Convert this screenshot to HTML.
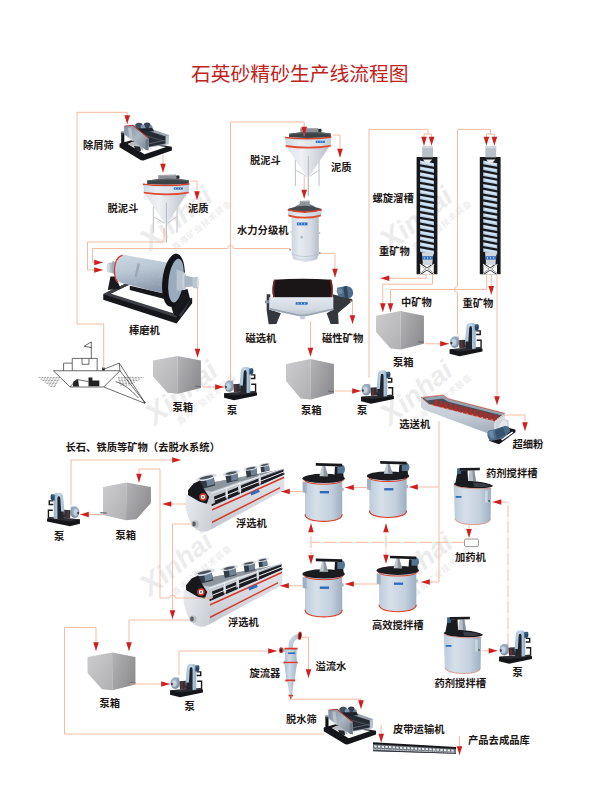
<!DOCTYPE html><html><head><meta charset="utf-8"><title>flow</title><style>html,body{margin:0;padding:0;background:#fff;font-family:"Liberation Sans",sans-serif}svg{display:block}</style></head><body><svg width="600" height="800" viewBox="0 0 600 800"><defs><linearGradient id="vsPanel" x1="0" y1="0" x2="1" y2="1"><stop offset="0" stop-color="#7f8d9b"/><stop offset=".5" stop-color="#aab6c1"/><stop offset="1" stop-color="#76838f"/></linearGradient>
<g id="vscreen" transform="scale(0.108333)">
 <!-- base -->
 <path fill="#15161a" d="M42 262L150 232L200 240L525 292L525 328L262 420L240 418L42 298z"/>
 <path fill="#fbfbfc" d="M118 268L165 248L472 296L272 362z"/>
 <path fill="#b9bcc0" d="M118 268L165 248L250 262L262 330z"/>
 <path fill="#23252a" d="M176 286L232 292L240 334L186 326z"/>
 <!-- left post -->
 <path fill="#111216" d="M57 165L86 165L86 262L57 262z"/>
 <ellipse cx="71" cy="160" rx="20" ry="9" fill="#8d949d"/>
 <ellipse cx="71" cy="172" rx="18" ry="7" fill="#3b3f47"/>
 <!-- far wall + interior -->
 <path fill="#99a4b0" d="M165 95L205 82L497 184L492 268L468 274L312 300L300 140z"/>
 <path fill="#272b33" d="M172 104L468 198L468 262L314 292L310 215z"/>
 <path fill="#4a505a" d="M230 170L468 240L468 250L240 185z"/>
 <path fill="#5d646f" d="M300 262L468 228L468 236L305 272z"/>
 <path fill="#b9c2cc" d="M468 198L497 184L492 268L468 274z"/>
 <!-- motors -->
 <ellipse cx="222" cy="102" rx="34" ry="30" fill="#3d4c5f"/>
 <ellipse cx="296" cy="98" rx="32" ry="28" fill="#334152"/>
 <ellipse cx="258" cy="112" rx="22" ry="22" fill="#8195ab"/>
 <ellipse cx="330" cy="112" rx="16" ry="18" fill="#6f8296"/>
 <path fill="#1d222b" d="M200 125L345 120L360 150L240 160z"/>
 <!-- near side panel -->
 <path fill="url(#vsPanel)" d="M84 104L166 94L312 214L308 326L282 320L84 180z"/>
 <path fill="#6e7a87" d="M282 228L312 214L308 326L282 320z"/>
 <path fill="#b5342a" d="M84 99L166 91L312 212L309 219L162 100L84 107z"/>
 <path fill="#cfd6dd" opacity=".6" d="M120 118L150 112L165 245L135 222z"/>
</g><linearGradient id="coneG" x1="0" y1="0" x2="1" y2="0"><stop offset="0" stop-color="#dfe3e8"/><stop offset=".35" stop-color="#eef0f3"/><stop offset=".75" stop-color="#d0d4da"/><stop offset="1" stop-color="#bcc1c8"/></linearGradient><linearGradient id="coneB" x1="0" y1="0" x2="1" y2="0"><stop offset="0" stop-color="#cfd8e2"/><stop offset=".3" stop-color="#e9eef4"/><stop offset=".8" stop-color="#d5dde6"/><stop offset="1" stop-color="#bcc6d1"/></linearGradient>
<g id="cone" transform="scale(0.108333)">
 <!-- legs -->
 <g stroke="#b3b8bf" stroke-width="9" fill="none" stroke-linecap="round">
  <path d="M170 380L170 620M388 390L388 620M290 350L290 712"/>
  <path stroke-width="7" d="M170 478L272 535M388 478L305 535"/>
 </g>
 <g stroke="#e9ebee" stroke-width="3" fill="none"><path d="M168 380L168 620M386 390L386 620M288 520L288 712"/></g>
 <!-- cone -->
 <path fill="url(#coneG)" d="M88 262L482 262L304 528L266 528z"/>
 <path d="M290 352L290 712" stroke="#aeb3ba" stroke-width="9" stroke-linecap="round" fill="none"/><path d="M288 356L288 708" stroke="#dfe2e6" stroke-width="3" fill="none"/>
 <!-- feed well -->
 <path fill="#8a9096" d="M215 92L380 90L380 140L215 140z"/>
 <path fill="#a7adb3" d="M215 92L380 90L370 100L225 102z"/>
 <path fill="#4c5258" d="M378 98L408 96L410 126L380 130z"/>
 <ellipse cx="398" cy="110" rx="12" ry="14" fill="#24282d"/>
 <!-- dark rim -->
 <path fill="#3c4346" d="M112 142Q290 112 497 140L497 172Q290 190 112 175z"/>
 <path fill="#596164" d="M112 142Q290 112 497 140L490 150Q290 125 120 152z"/>
 <!-- band -->
 <path fill="url(#coneB)" d="M76 180Q290 205 500 178L496 255Q290 285 82 255z"/>
 <path fill="#d8432b" d="M72 170Q290 195 503 168L503 182Q290 210 74 185z"/>
 <path fill="#e2492e" d="M78 246Q290 278 498 246L494 262Q290 296 84 264z"/>
 <path fill="#bfe3f2" opacity=".8" d="M80 188Q290 214 498 186L498 192Q290 220 80 194z"/>
 <rect x="358" y="207" width="84" height="20" fill="#2b6cbd"/>
 <rect x="372" y="211" width="6" height="12" fill="#dfe9f5"/><rect x="396" y="211" width="5" height="12" fill="#dfe9f5"/><rect x="418" y="211" width="5" height="12" fill="#dfe9f5"/>
</g><linearGradient id="clsG" x1="0" y1="0" x2="1" y2="0"><stop offset="0" stop-color="#cdd5de"/><stop offset=".3" stop-color="#e6ebf1"/><stop offset=".7" stop-color="#d5dce4"/><stop offset="1" stop-color="#b4bdc8"/></linearGradient><linearGradient id="clsB" x1="0" y1="0" x2="1" y2="0"><stop offset="0" stop-color="#cdd6e0"/><stop offset=".3" stop-color="#eaeff4"/><stop offset="1" stop-color="#c2cbd6"/></linearGradient>
<g id="classifier" transform="scale(0.108333)">
 <!-- body -->
 <path fill="url(#clsG)" d="M200 240L450 240L450 598Q450 612 440 618L436 640Q325 690 214 640L210 618Q200 612 200 598z"/>
 <path fill="none" stroke="#aab2bc" stroke-width="5" d="M203 590Q325 640 447 590"/>
 <path fill="none" stroke="#b6bdc6" stroke-width="4" d="M212 622Q325 668 438 622"/>
 <!-- nozzles -->
 <circle cx="186" cy="552" r="9" fill="#8e969f"/><circle cx="460" cy="582" r="9" fill="#8e969f"/>
 <circle cx="457" cy="397" r="8" fill="#a0a8b1"/><circle cx="194" cy="386" r="6" fill="#a0a8b1"/>
 <rect x="283" y="424" width="18" height="24" fill="#aeb6bf"/>
 <!-- feed box -->
 <path fill="#8d9399" d="M275 102L365 100L368 160L272 160z"/>
 <path fill="#a9afb5" d="M275 102L365 100L358 112L283 113z"/>
 <path fill="#6d747b" d="M365 130L410 150L410 180L365 170z"/>
 <path fill="#7c838a" d="M235 150L275 130L275 170L235 175z"/>
 <!-- head -->
 <path fill="#454c50" d="M168 172Q320 120 473 172L473 190Q320 215 168 190z"/>
 <path fill="#d4422b" d="M164 176Q320 215 477 176L477 192Q320 232 164 192z"/>
 <path fill="url(#clsB)" d="M166 192Q320 232 475 192L472 232Q320 272 168 232z"/>
 <path fill="#bfe3f2" d="M166 196Q320 236 475 196L475 204Q320 244 166 204z"/>
 <path fill="#de4a2e" d="M168 226Q320 268 472 226L468 244Q320 284 172 244z"/>
 <rect x="248" y="300" width="98" height="26" fill="#2b6cbd"/>
 <rect x="262" y="305" width="7" height="16" fill="#dfe9f5"/><rect x="290" y="305" width="6" height="16" fill="#dfe9f5"/><rect x="318" y="305" width="6" height="16" fill="#dfe9f5"/>
</g><linearGradient id="rmG" x1="0" y1="0" x2="0.25" y2="1"><stop offset="0" stop-color="#cfd9e4"/><stop offset=".45" stop-color="#b9c6d4"/><stop offset="1" stop-color="#8998aa"/></linearGradient>
<g id="rodmill" transform="scale(0.183333)">
 <!-- frame -->
 <path fill="#16171b" d="M45 268L172 208L190 216L74 272L455 384L512 292L530 288L530 318L445 428L45 298z"/>
 <path fill="#3d4047" d="M45 268L62 258L457 382L442 396z"/><path fill="#3d4047" d="M62 258L172 208L190 216L80 266z"/><path fill="#34373d" d="M455 384L512 292L530 288L470 392z"/>
 <path fill="#16171b" d="M190 222L400 270L400 300L190 245z"/>
 <!-- left support -->
 <path fill="#1a1b20" d="M84 172L112 172L140 238L70 246z"/>
 <!-- right support -->
 <path fill="#17181c" d="M392 262L505 240L520 300L452 392L430 380z"/>
 <!-- left trunnion -->
 <path fill="#b3c0cd" d="M70 100L120 88L120 158L70 148z"/>
 <ellipse cx="72" cy="124" rx="9" ry="25" fill="#d2dae3"/>
 <ellipse cx="100" cy="122" rx="10" ry="36" fill="#9fadbc"/>
 <!-- drum -->
 <path fill="url(#rmG)" d="M135 56Q160 50 190 60L410 98Q440 190 402 272L150 208Q100 200 108 130Q112 70 135 56z"/>
 <path d="M150 55Q108 70 106 135Q106 190 126 206" fill="none" stroke="#d63a2a" stroke-width="7"/>
 <path fill="#8f9dad" opacity=".7" d="M232 100L246 102L228 175L216 172z"/>
 <g fill="#eef2f6" opacity=".55">
  <circle cx="175" cy="90" r="2"/><circle cx="205" cy="96" r="2"/><circle cx="265" cy="106" r="2"/><circle cx="295" cy="112" r="2"/><circle cx="325" cy="118" r="2"/><circle cx="355" cy="124" r="2"/>
  <circle cx="170" cy="130" r="2"/><circle cx="200" cy="137" r="2"/><circle cx="260" cy="150" r="2"/><circle cx="290" cy="157" r="2"/><circle cx="320" cy="164" r="2"/><circle cx="350" cy="171" r="2"/>
  <circle cx="168" cy="170" r="2"/><circle cx="198" cy="178" r="2"/><circle cx="258" cy="193" r="2"/><circle cx="288" cy="201" r="2"/><circle cx="318" cy="209" r="2"/><circle cx="348" cy="217" r="2"/>
 </g>
 <!-- gear ring + end cap + trunnion -->
 <ellipse cx="428" cy="192" rx="60" ry="146" fill="#121316" transform="rotate(7 428 192)"/>
 <ellipse cx="442" cy="194" rx="41" ry="120" fill="#9aabbd" transform="rotate(7 442 194)"/>
 <path fill="#b9c4d0" d="M445 132L488 150L488 246L445 250z"/>
 <ellipse cx="488" cy="198" rx="12" ry="48" fill="#c9d2dc"/>
 <path fill="#a9b5c2" d="M488 166L535 176L535 226L488 230z"/>
 <path fill="#bcc6d1" d="M530 178L560 172L562 240L532 232z"/>
 <ellipse cx="561" cy="206" rx="6" ry="34" fill="#d5dce4"/>
</g>
<g id="boat" transform="scale(0.216667)" fill="none" stroke="#2b2b2b" stroke-width="3.2" stroke-linejoin="round">
 <path stroke="#555" stroke-width="2.4" stroke-dasharray="9 4" d="M40 196L140 196M49 203L136 203M58 210L132 210M67 217L128 217M76 224L124 224M85 231L120 231M94 238L116 238M405 196L525 196M407 203L513 203M409 210L501 210M411 217L489 217M413 224L477 224M415 231L465 231"/>
 <path fill="#fff" d="M108 165L415 165L340 240L185 240z"/>
 <path d="M155 165L155 130L195 130M195 165L195 108L310 108L310 165M240 108L240 135L272 135L272 108"/>
 <path d="M283 108L283 32L250 52L283 58"/>
 <path d="M335 160L412 130L415 165M412 130L530 312M415 165L530 312M340 240L522 312M185 240L215 205L270 215M395 215Q440 225 500 290"/>
 <path fill="#222" stroke="none" d="M200 215L222 204L226 238L198 238zM270 196L288 196L288 210L320 210L320 236L270 236z"/>
 <circle cx="528" cy="312" r="5" fill="#333" stroke="none"/>
 <path fill="#222" stroke="none" d="M333 150L345 150L345 164L333 164z"/>
</g><linearGradient id="pbL" x1="0" y1="0" x2="1" y2="1"><stop offset="0" stop-color="#cdcdcf"/><stop offset="1" stop-color="#b0b0b3"/></linearGradient><linearGradient id="pbR" x1="0" y1="0" x2="1" y2="0.6"><stop offset="0" stop-color="#b4b4b7"/><stop offset="1" stop-color="#8e8e92"/></linearGradient>
<g id="pbox" transform="scale(0.191667) translate(-42 -58)">
 <path fill="url(#pbL)" d="M42 82L170 58L172 255L118 250L42 165z"/>
 <path fill="url(#pbR)" d="M170 58L292 82L292 225L172 255z"/>
 <path fill="#6c6e72" d="M262 212L292 214L292 221L262 219z"/>
</g>
<g id="pboxm" transform="scale(0.191667) translate(-42 -58)">
 <path fill="url(#pbL)" d="M42 82L164 58L162 255L42 228z"/>
 <path fill="url(#pbR)" d="M164 58L292 82L292 165L216 250L162 255z"/>
 <path fill="#6c6e72" d="M28 212L62 214L62 221L28 219z"/>
</g><radialGradient id="pmV" cx=".4" cy=".4" r=".7"><stop offset="0" stop-color="#bccad8"/><stop offset="1" stop-color="#70849a"/></radialGradient><linearGradient id="pmB" x1="0" y1="0" x2="1" y2="0"><stop offset="0" stop-color="#9fbbd4"/><stop offset=".5" stop-color="#c6d9ea"/><stop offset="1" stop-color="#8fadc8"/></linearGradient>
<g id="pump" transform="scale(0.070000)">
 <!-- base -->
 <path fill="#141518" d="M58 448L490 418L528 438L528 478L200 545L58 512z"/>
 <path fill="#2b2d32" d="M58 448L490 418L528 438L200 478z"/>
 <!-- frame right -->
 <path fill="none" stroke="#18191d" stroke-width="20" d="M438 184L496 184L496 236L438 236M446 318L508 318L508 430"/>
 <!-- bearing housing -->
 <path fill="#2f3238" d="M188 318L330 308L340 420L200 432z"/>
 <path fill="#7a2d2a" d="M215 318L235 316L242 428L222 430z"/>
 <path fill="#8f9aa6" d="M280 330L335 326L338 380L285 386z"/>
 <!-- volute -->
 <path fill="#aebdcb" d="M100 268L190 262L190 300L100 305z"/>
 <ellipse cx="132" cy="345" rx="66" ry="82" fill="url(#pmV)"/>
 <ellipse cx="118" cy="350" rx="34" ry="48" fill="#d0dae4" opacity=".7"/>
 <ellipse cx="84" cy="356" rx="14" ry="18" fill="#3a4048"/>
 <!-- belt guard -->
 <path fill="#20242a" d="M322 110L388 110L388 340L310 340z"/><path fill="#23262c" d="M290 330L385 330L385 440L290 440z"/>
 <path fill="url(#pmB)" d="M280 336L298 130Q304 68 365 68Q432 68 432 130L432 440L380 444L380 150Q378 114 360 114Q342 114 338 150L326 336z"/>
 <!-- motor -->
 <path fill="#264868" d="M420 92L462 88Q478 90 478 130Q478 172 462 176L420 178z"/>
 <path fill="#3b668f" d="M430 100L462 97L462 120L430 122z"/>
</g><linearGradient id="msT" x1="0" y1="0" x2="0" y2="1"><stop offset="0" stop-color="#e3e8ef"/><stop offset=".6" stop-color="#d3dae3"/><stop offset="1" stop-color="#b4bdc8"/></linearGradient>
<g id="magsep" transform="scale(0.166667)">
 <!-- frame / legs -->
 <path fill="#34373c" d="M40 158L62 158L62 250L125 272L98 336L52 338L40 255z"/>
 <path fill="#34373c" d="M436 158L552 186L556 196L468 270L472 336L424 336L400 272L436 250z"/>
 <path fill="#fff" d="M66 262L108 278L92 318L70 318z" opacity=".0"/>
 <!-- motor -->
 <path fill="#4d6c89" d="M462 118L520 108Q556 112 560 150Q556 178 530 182L470 170z"/>
 <path fill="#2f455b" d="M500 112L520 108L530 182L508 178z"/>
 <circle cx="478" cy="140" r="18" fill="#6d88a2"/>
 <!-- drum -->
 <path fill="#1a1516" d="M84 70Q255 58 428 70Q442 120 432 178L80 178Q68 120 84 70z"/>
 <path fill="#7b2320" d="M84 70Q68 120 80 178L90 178Q78 120 94 70z"/>
 <path fill="#7b2320" d="M428 70Q442 120 432 178L422 178Q432 120 418 70z"/>
 <!-- tank -->
 <path fill="url(#msT)" d="M55 176L440 176L440 252L272 290L238 290L55 250z"/>
 <path fill="#9aa4b0" d="M55 238L240 280L272 280L440 242L440 252L272 290L238 290L55 250z"/>
 <path fill="#c5ccd5" d="M240 288L270 288L268 308L243 308z"/>
 <rect x="214" y="205" width="72" height="15" fill="#2b6cbd"/>
 <rect x="226" y="208" width="5" height="9" fill="#dfe9f5"/><rect x="246" y="208" width="5" height="9" fill="#dfe9f5"/><rect x="266" y="208" width="5" height="9" fill="#dfe9f5"/>
 <path fill="#8c96a2" d="M30 196L55 192L55 212L30 212z"/>
</g>
<g id="chute" transform="scale(0.2)">
 <path fill="#17181b" d="M108 160L212 160L212 746L108 746z"/>
 <path fill="#fff" d="M124 694L160 716L196 694L196 700L165 720L196 742L196 746L160 724L124 746L124 742L155 720L124 700z" transform="translate(0 0)"/>
 <path fill="#fff" d="M126 700L152 720L126 740zM194 700L168 720L194 740zM132 746L160 728L188 746zM134 694L160 712L186 694z"/>
 <path fill="#b4cde3" d="M125 178.0L195 191.0L195 209.0L125 196.0zM125 207.2L195 220.2L195 238.2L125 225.2zM125 236.4L195 249.4L195 267.4L125 254.4zM125 265.6L195 278.6L195 296.6L125 283.6zM125 294.8L195 307.8L195 325.8L125 312.8zM125 324.0L195 337.0L195 355.0L125 342.0zM125 353.2L195 366.2L195 384.2L125 371.2zM125 382.4L195 395.4L195 413.4L125 400.4zM125 411.6L195 424.6L195 442.6L125 429.6zM125 440.8L195 453.8L195 471.8L125 458.8zM125 470.0L195 483.0L195 501.0L125 488.0zM125 499.2L195 512.2L195 530.2L125 517.2zM125 528.4L195 541.4L195 559.4L125 546.4zM125 557.6L195 570.6L195 588.6L125 575.6zM125 586.8L195 599.8L195 617.8L125 604.8zM125 616.0L195 629.0L195 647.0L125 634.0z"/>
 <path fill="#dcebf7" d="M132 183.0L190 194.0L190 201.0L132 190.0zM132 212.2L190 223.2L190 230.2L132 219.2zM132 241.4L190 252.4L190 259.4L132 248.4zM132 270.6L190 281.6L190 288.6L132 277.6zM132 299.8L190 310.8L190 317.8L132 306.8zM132 329.0L190 340.0L190 347.0L132 336.0zM132 358.2L190 369.2L190 376.2L132 365.2zM132 387.4L190 398.4L190 405.4L132 394.4zM132 416.6L190 427.6L190 434.6L132 423.6zM132 445.8L190 456.8L190 463.8L132 452.8zM132 475.0L190 486.0L190 493.0L132 482.0zM132 504.2L190 515.2L190 522.2L132 511.2zM132 533.4L190 544.4L190 551.4L132 540.4zM132 562.6L190 573.6L190 580.6L132 569.6zM132 591.8L190 602.8L190 609.8L132 598.8zM132 621.0L190 632.0L190 639.0L132 628.0z"/>
 <path fill="#b9bfc6" d="M136 106L190 106L190 162L136 162z"/>
 <path fill="#d3d8dd" d="M136 106L190 106L190 116L136 116z"/>
 <path fill="#e8edf2" d="M140 172L186 172L170 190L150 186z"/>
 <path fill="#cfd6de" d="M134 636L192 636L186 700L140 700z"/>
 <rect x="136" y="656" width="54" height="17" fill="#2b6cbd"/>
 <rect x="144" y="660" width="4" height="9" fill="#dfe9f5"/><rect x="160" y="660" width="4" height="9" fill="#dfe9f5"/><rect x="176" y="660" width="4" height="9" fill="#dfe9f5"/>
</g><linearGradient id="scF" x1="0" y1="0" x2="0.2" y2="1"><stop offset="0" stop-color="#d5dbe3"/><stop offset=".6" stop-color="#c3cbd5"/><stop offset="1" stop-color="#a9b3bf"/></linearGradient>
<g id="screw" transform="scale(0.2)">
 <!-- base frame of drive -->
 <path fill="#15161a" d="M372 262L470 215L502 222L502 236L420 296L372 280z"/>
 <path fill="#fff" d="M430 270L486 232L492 238L436 278z"/>
 <!-- interior -->
 <path fill="#474c55" d="M36 64L140 52L165 70L448 142L400 176L68 94z"/>
 <path fill="#98a2ae" d="M44 64L140 52L166 70L448 142L436 152L166 84L138 68L60 78z"/>
 <g fill="#ad2c27"><ellipse cx="104.0" cy="94.0" rx="10" ry="21" transform="rotate(14 104.0 94.0)"/><ellipse cx="128.7" cy="100.2" rx="10" ry="21" transform="rotate(14 128.7 100.2)"/><ellipse cx="153.3" cy="106.3" rx="10" ry="21" transform="rotate(14 153.3 106.3)"/><ellipse cx="178.0" cy="112.5" rx="10" ry="21" transform="rotate(14 178.0 112.5)"/><ellipse cx="202.7" cy="118.7" rx="10" ry="21" transform="rotate(14 202.7 118.7)"/><ellipse cx="227.3" cy="124.8" rx="10" ry="21" transform="rotate(14 227.3 124.8)"/><ellipse cx="252.0" cy="131.0" rx="10" ry="21" transform="rotate(14 252.0 131.0)"/><ellipse cx="276.7" cy="137.2" rx="10" ry="21" transform="rotate(14 276.7 137.2)"/><ellipse cx="301.3" cy="143.3" rx="10" ry="21" transform="rotate(14 301.3 143.3)"/><ellipse cx="326.0" cy="149.5" rx="10" ry="21" transform="rotate(14 326.0 149.5)"/><ellipse cx="350.7" cy="155.7" rx="10" ry="21" transform="rotate(14 350.7 155.7)"/><ellipse cx="375.3" cy="161.8" rx="10" ry="21" transform="rotate(14 375.3 161.8)"/><ellipse cx="400.0" cy="168.0" rx="10" ry="21" transform="rotate(14 400.0 168.0)"/></g>
 <!-- front face -->
 <path fill="url(#scF)" d="M30 62L68 95L398 180L398 246L360 240L42 122L30 110z"/>
 <path fill="none" stroke="#c23a2e" stroke-width="3" d="M30 62L68 95L398 180L450 150M30 62L140 50L166 68L450 142"/>
 <!-- end plate -->
 <path fill="#d9dee4" d="M398 180L450 150L452 200L398 246z"/>
 <!-- drive drum -->
 <path fill="#cdd3da" d="M405 185Q440 160 468 178L470 232Q440 262 408 246z"/>
 <ellipse cx="438" cy="212" rx="20" ry="40" fill="#e3e7eb" transform="rotate(20 438 212)"/>
 <!-- motor -->
 <path fill="#4b6b88" d="M362 238Q368 222 392 224L452 204Q476 208 476 232L440 268L380 280Q360 270 362 238z"/>
 <path fill="#37526b" d="M400 226L440 210L452 250L410 270z"/>
 <path fill="#6c8aa5" d="M366 238Q372 226 390 228L396 268Q374 270 366 238z"/>
</g><linearGradient id="flS" x1="0" y1="0" x2="0" y2="1"><stop offset="0" stop-color="#e1e4e9"/><stop offset=".6" stop-color="#d3d7dd"/><stop offset="1" stop-color="#bfc4cc"/></linearGradient><linearGradient id="flE" x1="0" y1="0" x2="1" y2="0.5"><stop offset="0" stop-color="#e9ebef"/><stop offset="1" stop-color="#cfd3d9"/></linearGradient>
<g id="flot" transform="scale(0.2)">
 <!-- side face -->
 <path fill="url(#flS)" d="M155 248L522 92L522 172L500 186L155 372z"/>
 <!-- end face -->
 <path fill="url(#flE)" d="M28 198L155 248L155 372Q120 395 80 372Q42 340 28 260z"/>
 <path fill="#b9bfc7" d="M58 332Q75 322 92 334L92 360Q75 368 58 356z"/>
 <ellipse cx="70" cy="345" rx="9" ry="12" fill="#5a6068"/>
 <!-- red stripes -->
 <path fill="#d8362a" d="M160 270L520 108L520 116L160 279zM160 332L500 160L500 168L160 341z"/>
 <rect x="352" y="180" width="46" height="14" fill="#2b6cbd" transform="rotate(-22 375 187)"/>
 <!-- deck (light) -->
 <path fill="#c5cad1" d="M40 176L92 150L520 70L522 96L160 252L40 200z"/>
 <path fill="#8d959f" d="M92 150L520 70L520 78L300 132L160 182L110 176z"/>
 <!-- black windows -->
 <g fill="#1b1d22">
  <path d="M170 208L226 186L229 222L176 246z"/><path d="M238 181L290 160L292 196L242 218z"/>
  <path d="M304 152L392 118L394 150L308 186z"/><path d="M404 113L516 74L516 98L406 146z"/>
 </g>
 <path fill="#1b1d22" d="M158 246L522 90L522 98L158 256z"/>
 <g stroke="#eef0f3" stroke-width="5" fill="none"><path d="M156 192L520 64M172 226L292 178M232 162L236 226M298 136L302 196M398 98L400 150M306 168L394 134M404 130L516 86"/></g>
 <!-- motors -->
 <g fill="#323c47">
  <path d="M98 122L168 106L176 152L108 170z"/><path d="M226 98L286 84L292 126L234 140z"/>
  <path d="M328 74L382 62L386 100L334 112z"/><path d="M402 56L444 46L448 78L406 88z"/>
 </g>
 <g fill="#6f8296">
  <path d="M130 116L168 106L174 146L136 156z"/><path d="M254 92L286 84L291 122L258 130z"/>
  <path d="M352 70L382 62L386 96L356 104z"/><path d="M420 52L444 46L448 74L424 82z"/>
 </g>
 <g fill="#dde1e6">
  <ellipse cx="132" cy="112" rx="54" ry="14" transform="rotate(-13 132 112)"/><ellipse cx="256" cy="90" rx="45" ry="12" transform="rotate(-12 256 90)"/>
  <ellipse cx="354" cy="66" rx="38" ry="10" transform="rotate(-11 354 66)"/><ellipse cx="423" cy="49" rx="31" ry="9" transform="rotate(-11 423 49)"/>
 </g>
 <g fill="#4a525c">
  <ellipse cx="132" cy="112" rx="36" ry="7" transform="rotate(-13 132 112)"/><ellipse cx="256" cy="90" rx="30" ry="6" transform="rotate(-12 256 90)"/>
  <ellipse cx="354" cy="66" rx="25" ry="5" transform="rotate(-11 354 66)"/><ellipse cx="423" cy="49" rx="20" ry="4.5" transform="rotate(-11 423 49)"/>
 </g>
 <!-- belt guard front-left -->
 <path fill="#17181c" d="M40 176L68 142L100 128L120 170L146 210L134 244L96 232L40 200z"/>
 <circle cx="115" cy="210" r="19" fill="#d8362a"/><circle cx="115" cy="210" r="11" fill="#f0f0f0"/><circle cx="115" cy="210" r="5" fill="#5b7a99"/>
</g><linearGradient id="atG" x1="0" y1="0" x2="1" y2="0"><stop offset="0" stop-color="#bccbdb"/><stop offset=".3" stop-color="#d6e0ea"/><stop offset=".7" stop-color="#c3d0dd"/><stop offset="1" stop-color="#9dafc2"/></linearGradient>
<g id="atank" transform="scale(0.2)">
 <!-- body -->
 <path fill="url(#atG)" d="M50 120L236 120L236 300Q236 330 143 332Q50 330 50 300z"/>
 <path fill="none" stroke="#de3f2a" stroke-width="6" d="M50 296Q52 330 143 332Q234 330 236 296"/>
 <!-- side box / nozzle -->
 <path fill="#9fb0c2" d="M38 132L58 136L58 192L38 186z"/>
 <path fill="#aab6c3" d="M230 164L243 164L243 180L230 180z"/>
 <!-- lid -->
 <ellipse cx="143" cy="117" rx="106" ry="23" fill="#1b1c20"/>
 <path fill="none" stroke="#de3f2a" stroke-width="5" d="M42 124Q60 146 143 146Q226 146 244 124"/>
 <!-- bridge support -->
 <path fill="#c3c9d0" d="M136 52L150 52L166 106L122 106z"/>
 <path fill="#8e969f" d="M143 52L150 52L166 106L143 106z"/>
 <!-- bracket & motor -->
 <path fill="#1b1c20" d="M200 58L238 58L244 116L196 116z"/>
 <path fill="#55748f" d="M212 50L240 50Q250 56 250 72Q250 88 240 92L212 92z"/>
 <!-- beam -->
 <path fill="#17181b" d="M104 40L236 44L236 58L104 54z"/>
 <rect x="124" y="180" width="46" height="12" fill="#2b6cbd"/>
</g>
<g id="rtank" transform="scale(0.137457)">
 <path fill="url(#atG)" d="M100 185L372 205L368 430Q360 470 235 470Q115 465 108 425z"/>
 <path fill="none" stroke="#dc8068" stroke-width="5" d="M108 425Q115 465 235 470Q360 470 368 430"/>
 <!-- side box -->
 <path fill="#a3b4c6" d="M320 215L366 222L362 322L322 312z"/><path fill="#c9d5e0" d="M324 220L348 224L346 314L325 309z"/>
 <path fill="#3d5a4a" d="M352 290L362 292L362 306L352 304z"/>
 <!-- lid -->
 <path fill="#1a1b1f" d="M98 172Q160 142 250 154Q350 162 386 188Q380 208 240 204Q110 198 98 172z"/>
 <path fill="none" stroke="#dc8068" stroke-width="5" d="M100 184Q130 202 240 208Q350 212 376 204"/>
 <path fill="#3a3d43" d="M240 165Q320 165 360 185Q330 200 250 196z"/>
 <!-- bracket/motor -->
 <path fill="#1a1b1f" d="M128 80L200 72L205 165L112 168z"/>
 <path fill="#3e6285" d="M124 62L152 58L154 100L126 104z"/>
 <!-- support -->
 <path fill="#b9c0c8" d="M215 76L250 76L262 152L205 152z"/>
 <path fill="#8a929b" d="M236 76L250 76L262 152L240 152z"/>
 <!-- beam -->
 <path fill="#1a1b1f" d="M145 58L290 56L290 74L145 78z"/>
 <rect x="114" y="262" width="42" height="13" fill="#2b6cbd"/>
</g><linearGradient id="cyB" x1="0" y1="0" x2="1" y2="0"><stop offset="0" stop-color="#a9bccd"/><stop offset=".4" stop-color="#cfdce8"/><stop offset="1" stop-color="#a0b3c5"/></linearGradient><linearGradient id="cyP" x1="0" y1="0" x2="1" y2="1"><stop offset="0" stop-color="#cfdce8"/><stop offset="1" stop-color="#a0b3c5"/></linearGradient>
<g id="cyclone" transform="scale(0.1)">
 <!-- overflow elbow -->
 <path fill="none" stroke="url(#cyP)" stroke-width="46" d="M258 262L258 225Q262 160 345 135"/>
 <ellipse cx="348" cy="138" rx="20" ry="42" fill="#c8382b" transform="rotate(8 348 138)"/>
 <ellipse cx="350" cy="138" rx="11" ry="30" fill="#5e1512" transform="rotate(8 350 138)"/>
 <!-- inlet -->
 <path fill="#b3c4d4" d="M165 262L200 268L200 300L165 305z"/>
 <ellipse cx="162" cy="283" rx="21" ry="30" fill="#c8382b"/>
 <ellipse cx="160" cy="284" rx="11" ry="18" fill="#5e1512"/>
 <!-- head -->
 <path fill="url(#cyB)" d="M200 268L316 268L316 360L322 404L190 404L200 360z"/>
 <path fill="#d63a2a" d="M196 258L326 258L326 274L196 274zM184 398L326 398L326 416L184 416z"/>
 <rect x="230" y="304" width="72" height="16" fill="#2b6cbd"/>
 <!-- cone 1 -->
 <path fill="url(#cyB)" d="M194 416L320 416L296 580L214 580z"/>
 <path fill="#d63a2a" d="M204 576L302 576Q304 586 300 596L206 596Q200 586 204 576z"/>
 <!-- cone 2 -->
 <path fill="url(#cyB)" d="M224 596L286 596L270 730L246 730z"/>
 <path fill="#d63a2a" d="M234 728L282 728L278 744L238 744z"/>
 <path fill="#c4382c" d="M246 744L270 744L258 778z"/>
</g>
<g id="belt" transform="scale(0.166667)">
 <path fill="#6d737b" d="M48 52L546 78L546 112L48 96z"/>
 <path fill="#e9ecef" d="M56.0 62.0l14 1l0 12l-14 -1zM78.0 63.2l14 1l0 12l-14 -1zM100.0 64.4l14 1l0 12l-14 -1zM122.0 65.5l14 1l0 12l-14 -1zM144.0 66.7l14 1l0 12l-14 -1zM166.0 67.9l14 1l0 12l-14 -1zM188.0 69.1l14 1l0 12l-14 -1zM210.0 70.3l14 1l0 12l-14 -1zM232.0 71.5l14 1l0 12l-14 -1zM254.0 72.6l14 1l0 12l-14 -1zM276.0 73.8l14 1l0 12l-14 -1zM298.0 75.0l14 1l0 12l-14 -1zM320.0 76.2l14 1l0 12l-14 -1zM342.0 77.4l14 1l0 12l-14 -1zM364.0 78.5l14 1l0 12l-14 -1zM386.0 79.7l14 1l0 12l-14 -1zM408.0 80.9l14 1l0 12l-14 -1zM430.0 82.1l14 1l0 12l-14 -1zM452.0 83.3l14 1l0 12l-14 -1zM474.0 84.5l14 1l0 12l-14 -1zM496.0 85.6l14 1l0 12l-14 -1zM518.0 86.8l14 1l0 12l-14 -1z"/>
 <path fill="#c9ced4" d="M52.0 78.0l10 8l8 -7l0 10l-18 -1zM74.2 79.0l10 8l8 -7l0 10l-18 -1zM96.4 80.0l10 8l8 -7l0 10l-18 -1zM118.5 81.0l10 8l8 -7l0 10l-18 -1zM140.7 82.0l10 8l8 -7l0 10l-18 -1zM162.9 83.0l10 8l8 -7l0 10l-18 -1zM185.1 84.0l10 8l8 -7l0 10l-18 -1zM207.3 85.0l10 8l8 -7l0 10l-18 -1zM229.5 86.0l10 8l8 -7l0 10l-18 -1zM251.6 87.0l10 8l8 -7l0 10l-18 -1zM273.8 88.0l10 8l8 -7l0 10l-18 -1zM296.0 89.0l10 8l8 -7l0 10l-18 -1zM318.2 90.0l10 8l8 -7l0 10l-18 -1zM340.4 91.0l10 8l8 -7l0 10l-18 -1zM362.5 92.0l10 8l8 -7l0 10l-18 -1zM384.7 93.0l10 8l8 -7l0 10l-18 -1zM406.9 94.0l10 8l8 -7l0 10l-18 -1zM429.1 95.0l10 8l8 -7l0 10l-18 -1zM451.3 96.0l10 8l8 -7l0 10l-18 -1zM473.5 97.0l10 8l8 -7l0 10l-18 -1zM495.6 98.0l10 8l8 -7l0 10l-18 -1zM517.8 99.0l10 8l8 -7l0 10l-18 -1z"/>
 <path fill="#15161a" d="M48 44L546 72L546 84L48 56z"/>
 <path fill="#2b2d33" d="M48 92L546 108L546 113L48 97z"/>
</g></defs><rect width="600" height="800" fill="#fff"/><g fill="#ececec" font-family="Liberation Sans, sans-serif" font-weight="bold" font-style="italic" font-size="27"><g transform="translate(150 252) rotate(-39)"><text x="0" y="0"><tspan font-size="30">X</tspan>inhai</text><text x="20" y="15" fill="#efefef" font-family="'Liberation Sans','Noto Sans CJK SC',sans-serif" font-size="8.5" font-style="normal" font-weight="bold" letter-spacing="0.8">鑫海矿业技术装备</text></g><g transform="translate(390 252) rotate(-39)"><text x="0" y="0"><tspan font-size="30">X</tspan>inhai</text><text x="20" y="15" fill="#efefef" font-family="'Liberation Sans','Noto Sans CJK SC',sans-serif" font-size="8.5" font-style="normal" font-weight="bold" letter-spacing="0.8">鑫海矿业技术装备</text></g><g transform="translate(155 426) rotate(-39)"><text x="0" y="0"><tspan font-size="30">X</tspan>inhai</text><text x="20" y="15" fill="#efefef" font-family="'Liberation Sans','Noto Sans CJK SC',sans-serif" font-size="8.5" font-style="normal" font-weight="bold" letter-spacing="0.8">鑫海矿业技术装备</text></g><g transform="translate(390 426) rotate(-39)"><text x="0" y="0"><tspan font-size="30">X</tspan>inhai</text><text x="20" y="15" fill="#efefef" font-family="'Liberation Sans','Noto Sans CJK SC',sans-serif" font-size="8.5" font-style="normal" font-weight="bold" letter-spacing="0.8">鑫海矿业技术装备</text></g><g transform="translate(150 597) rotate(-39)"><text x="0" y="0"><tspan font-size="30">X</tspan>inhai</text><text x="20" y="15" fill="#efefef" font-family="'Liberation Sans','Noto Sans CJK SC',sans-serif" font-size="8.5" font-style="normal" font-weight="bold" letter-spacing="0.8">鑫海矿业技术装备</text></g><g transform="translate(390 598) rotate(-39)"><text x="0" y="0"><tspan font-size="30">X</tspan>inhai</text><text x="20" y="15" fill="#efefef" font-family="'Liberation Sans','Noto Sans CJK SC',sans-serif" font-size="8.5" font-style="normal" font-weight="bold" letter-spacing="0.8">鑫海矿业技术装备</text></g></g><use href="#vscreen" x="0" y="0" transform="translate(115 115)"/><use href="#vscreen" transform="translate(319.2 699)"/><use href="#cone" transform="translate(135 165)"/><use href="#cone" transform="translate(277 118.3)"/><use href="#classifier" transform="translate(270 190)"/><use href="#rodmill" transform="translate(95 245)"/><use href="#boat" transform="translate(30 335)"/><use href="#pbox" transform="translate(153 356) scale(1 1)"/><use href="#pbox" transform="translate(286 359) scale(1 1.07)"/><use href="#pbox" transform="translate(376 311) scale(1 1.02)"/><use href="#pboxm" transform="translate(103 482.5)"/><use href="#pbox" transform="translate(87.5 652.5) scale(1 1)"/><use href="#pump" transform="translate(220 362) scale(1 1)"/><use href="#pump" transform="translate(357 365.5) scale(1 1)"/><use href="#pump" transform="translate(445.5 318) scale(1 1)"/><use href="#pump" transform="translate(84 488) scale(-1 1)"/><use href="#pump" transform="translate(166 659) scale(1 1)"/><use href="#pump" transform="translate(495 625.5) scale(1 1)"/><use href="#magsep" transform="translate(260 268)"/><use href="#chute" transform="translate(395 125)"/><use href="#chute" transform="translate(458.2 125)"/><use href="#screw" transform="translate(415 385)"/><use href="#flot" transform="translate(180 455)"/><use href="#flot" transform="translate(178 550)"/><use href="#atank" transform="translate(295 455)"/><use href="#atank" transform="translate(359.4 453.3) scale(1 0.967)"/><use href="#atank" transform="translate(295 550.5)"/><use href="#atank" transform="translate(369.1 548) scale(1 0.96)"/><use href="#rtank" transform="translate(440 460)"/><use href="#rtank" transform="translate(430 609)"/><use href="#cyclone" transform="translate(265 622)"/><use href="#belt" transform="translate(365 735)"/><g fill="none" stroke="#f5b399" stroke-width="0.9"><path d="M103.7 368.6L103.7 324L77 324L77 112.3L127.2 112.3L127.2 124M163 155L163 172.6M190 181L197 181L197 200M164 228L164 242L87.5 242L87.5 270L103 270M290 248.5L233.5 248.5M227.5 248.5L92.5 248.5L92.5 262.5L103 262.5M230.5 380L230.5 122L304.2 122L304.2 135.6M332.5 135L340 135L340 157.5M304.2 176L304.2 198.5M321 253.4L335 253.4L335 277.5M350 301.3L352.5 301.3L352.5 324M310.5 321L310.5 356.5M335 391L361 391M197.5 287L197.5 357.5M202.5 387L224 387M369 378L369 129.4L428 129.4L428 134M424 145.6L424 134L431.6 134L431.6 145.6M457.5 335L457.5 292.5M457.5 286.5L457.5 129.4L490.5 129.4L490.5 134M486.4 145.6L486.4 134L494.4 134L494.4 145.6M426 274L426 278.3L380.5 278.3M432.5 274L432.5 284.2L382.8 284.2L382.8 312M486.7 274L486.7 289.5L390.5 289.5L390.5 312M491.3 274L491.3 294.7M497 274L497 405M425 343.75L449 343.75M504 415L525 415L525 431M439 421L439 582L421 582M439 487L409 487M367.5 487.5L345 487.5M302.5 491.5L281 491.5M377.5 584L345 584M302.5 585.8L280 585.8M469 525L469 537.7M481.8 650.8L497.5 650.8M186 504L162.5 504M212 598L175.5 598M169.5 598L160 598L160 469L139 469L139 482.5M104 514.5L80 514.5M71 505L71 460L181 460M192.5 524L172.5 524L172.5 619M190 620L129 620L129 651M324 734L64.5 734L64.5 627.5L96 627.5L96 651M130 684L170 684M179 675L179 651L277 651M302 637.2L308.5 637.2L308.5 678M290.8 699.2L361 699.2L361 709M381.2 725L381.2 742.5M459.5 736L459.5 755M233.5 248.5A3 3 0 0 0 227.5 248.5M457.5 292.5A3 3 0 0 1 457.5 286.5M175.5 598A3 3 0 0 0 169.5 598"/><path stroke-dasharray="12 1.5 1 1.5" d="M464 542.3L311 542.3M311 564L311 523.5M386 563.5L386 523.5M508 645L508 502L492.5 502"/></g><g fill="#cf1f1f"><path d="M127.2 124.0L124.4 115.2L130.0 115.2z"/><path d="M163.0 172.6L160.2 163.8L165.8 163.8z"/><path d="M197.0 200.0L194.2 191.2L199.8 191.2z"/><path d="M103.0 270.0L94.2 272.8L94.2 267.2z"/><path d="M103.0 262.5L94.2 265.3L94.2 259.7z"/><path d="M304.2 135.6L301.4 126.8L307.0 126.8z"/><path d="M340.0 157.5L337.2 148.7L342.8 148.7z"/><path d="M304.2 198.5L301.4 189.7L307.0 189.7z"/><path d="M335.0 277.5L332.2 268.7L337.8 268.7z"/><path d="M352.5 324.0L349.7 315.2L355.3 315.2z"/><path d="M310.5 356.5L307.7 347.7L313.3 347.7z"/><path d="M361.0 391.0L352.2 393.8L352.2 388.2z"/><path d="M197.5 357.5L194.7 348.7L200.3 348.7z"/><path d="M224.0 387.0L215.2 389.8L215.2 384.2z"/><path d="M431.6 145.6L428.8 136.8L434.4 136.8z"/><path d="M424.0 145.6L421.2 136.8L426.8 136.8z"/><path d="M494.4 145.6L491.6 136.8L497.2 136.8z"/><path d="M486.4 145.6L483.6 136.8L489.2 136.8z"/><path d="M380.5 278.3L389.3 275.5L389.3 281.1z"/><path d="M382.8 312.0L380.0 303.2L385.6 303.2z"/><path d="M390.5 312.0L387.7 303.2L393.3 303.2z"/><path d="M491.3 294.7L488.5 285.9L494.1 285.9z"/><path d="M497.0 405.0L494.2 396.2L499.8 396.2z"/><path d="M449.0 343.8L440.2 346.6L440.2 340.9z"/><path d="M525.0 431.0L522.2 422.2L527.8 422.2z"/><path d="M421.0 582.0L429.8 579.2L429.8 584.8z"/><path d="M409.0 487.0L417.8 484.2L417.8 489.8z"/><path d="M345.0 487.5L353.8 484.7L353.8 490.3z"/><path d="M281.0 491.5L289.8 488.7L289.8 494.3z"/><path d="M345.0 584.0L353.8 581.2L353.8 586.8z"/><path d="M280.0 585.8L288.8 583.0L288.8 588.6z"/><path d="M311.0 523.5L313.8 532.3L308.2 532.3z"/><path d="M311.0 564.0L308.2 555.2L313.8 555.2z"/><path d="M386.0 523.5L388.8 532.3L383.2 532.3z"/><path d="M386.0 563.5L383.2 554.7L388.8 554.7z"/><path d="M469.0 537.7L466.2 528.9L471.8 528.9z"/><path d="M492.5 502.0L501.3 499.2L501.3 504.8z"/><path d="M497.5 650.8L488.7 653.6L488.7 648.0z"/><path d="M162.5 504.0L171.3 501.2L171.3 506.8z"/><path d="M139.0 482.5L136.2 473.7L141.8 473.7z"/><path d="M80.0 514.5L88.8 511.7L88.8 517.3z"/><path d="M181.0 460.0L172.2 462.8L172.2 457.2z"/><path d="M172.5 619.0L169.7 610.2L175.3 610.2z"/><path d="M129.0 651.0L126.2 642.2L131.8 642.2z"/><path d="M96.0 651.0L93.2 642.2L98.8 642.2z"/><path d="M170.0 684.0L161.2 686.8L161.2 681.2z"/><path d="M277.0 651.0L268.2 653.8L268.2 648.2z"/><path d="M308.5 678.0L305.7 669.2L311.3 669.2z"/><path d="M361.0 709.0L358.2 700.2L363.8 700.2z"/><path d="M381.2 742.5L378.4 733.7L384.0 733.7z"/><path d="M459.5 755.0L456.7 746.2L462.3 746.2z"/></g><rect x="464.5" y="539" width="14" height="7.6" rx="1.5" fill="#fff" stroke="#8c8c8c" stroke-width="0.9"/><text x="191" y="81.02" fill="#c1231c" font-family="'Liberation Sans','Noto Sans CJK SC',sans-serif" font-size="19.8">石英砂精砂生产线流程图</text><g fill="#1c1614" font-family="'Liberation Sans','Noto Sans CJK SC',sans-serif" font-size="10.3" font-weight="bold"><text x="83" y="148.91">除屑筛</text><text x="107.5" y="211.91">脱泥斗</text><text x="188" y="211.91">泥质</text><text x="250" y="163.91">脱泥斗</text><text x="331" y="171.41">泥质</text><text x="237" y="233.91">水力分级机</text><text x="372.5" y="201.91">螺旋溜槽</text><text x="379" y="254.91">重矿物</text><text x="401" y="305.91">中矿物</text><text x="462.5" y="306.91">重矿物</text><text x="129" y="333.91">棒磨机</text><text x="245.5" y="341.91">磁选机</text><text x="322" y="341.91">磁性矿物</text><text x="172.5" y="410.91">泵箱</text><text x="227" y="413.91">泵</text><text x="301" y="413.91">泵箱</text><text x="357" y="413.91">泵</text><text x="393" y="366.41">泵箱</text><text x="399.3" y="428.41">选送机</text><text x="512.5" y="447.91">超细粉</text><text x="65.5" y="450.91">长石、铁质等矿物（去脱水系统）</text><text x="54" y="539.91">泵</text><text x="115.5" y="538.91">泵箱</text><text x="236" y="526.91">浮选机</text><text x="228" y="625.91">浮选机</text><text x="486" y="476.91">药剂搅拌槽</text><text x="455" y="561.41">加药机</text><text x="372" y="628.91">高效搅拌槽</text><text x="434.5" y="686.91">药剂搅拌槽</text><text x="512.5" y="675.91">泵</text><text x="315.5" y="669.91">溢流水</text><text x="249.5" y="676.91">旋流器</text><text x="99.5" y="706.91">泵箱</text><text x="184.5" y="709.91">泵</text><text x="286" y="722.91">脱水筛</text><text x="393" y="733.41">皮带运输机</text><text x="468" y="743.91">产品去成品库</text></g></svg></body></html>
